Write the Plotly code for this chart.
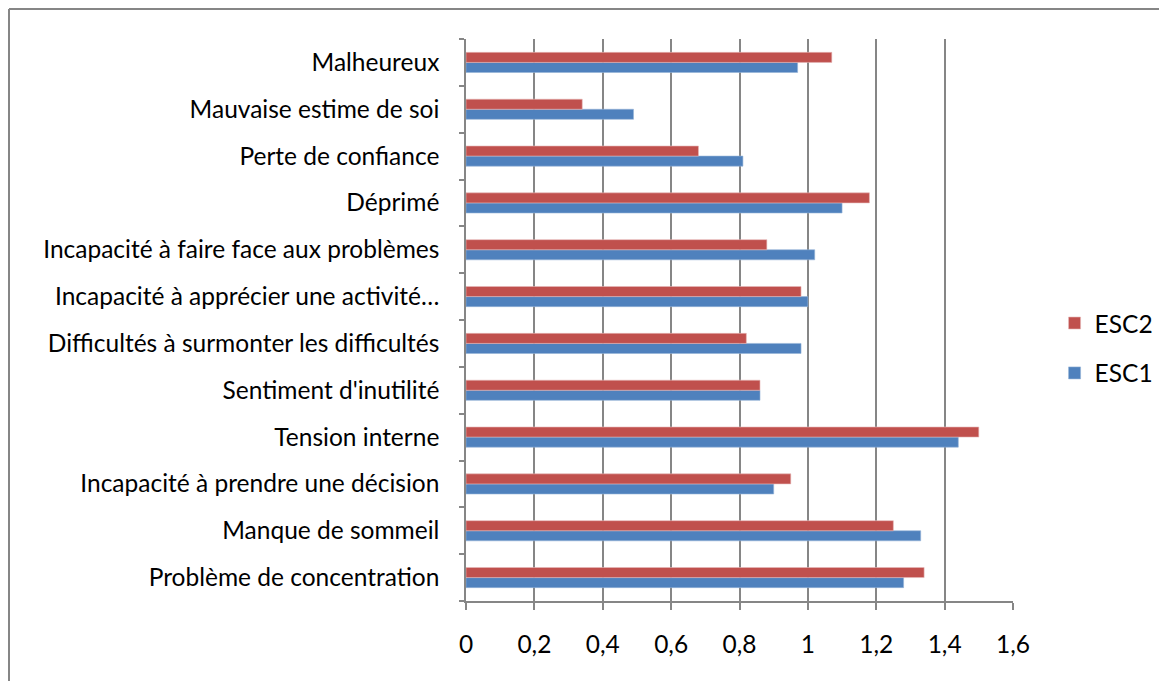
import plotly.graph_objects as go

categories = [
    "Problème de concentration",
    "Manque de sommeil",
    "Incapacité à prendre une décision",
    "Tension interne",
    "Sentiment d'inutilité",
    "Difficultés à surmonter les difficultés",
    "Incapacité à apprécier une activité…",
    "Incapacité à faire face aux problèmes",
    "Déprimé",
    "Perte de confiance",
    "Mauvaise estime de soi",
    "Malheureux",
]
esc1 = [1.28, 1.33, 0.90, 1.44, 0.86, 0.98, 1.00, 1.02, 1.10, 0.81, 0.49, 0.97]
esc2 = [1.34, 1.25, 0.95, 1.50, 0.86, 0.82, 0.98, 0.88, 1.18, 0.68, 0.34, 1.07]
x_ticks = [0, 0.2, 0.4, 0.6, 0.8, 1.0, 1.2, 1.4, 1.6]

FONT = "Lato, Carlito, Calibri, sans-serif"
GRID = "#868686"
FS = 24.5

fig = go.Figure()
fig.add_trace(go.Bar(y=categories, x=esc1, orientation="h", name="ESC1",
                     marker=dict(color="#4F81BD", line=dict(color="#95B3D7", width=0.6)),
                     legendgroup="a", legendrank=1002))
fig.add_trace(go.Bar(y=categories, x=esc2, orientation="h", name="ESC2",
                     marker=dict(color="#C0504D", line=dict(color="#E6B9B8", width=0.6)),
                     legendgroup="b", legendrank=1001))

fig.update_layout(
    width=1167, height=681,
    margin=dict(l=458, r=162, t=31, b=88),
    paper_bgcolor="white", plot_bgcolor="white",
    barmode="group", bargap=0.57, bargroupgap=0,
    separators=", ",
    font=dict(family=FONT, size=FS, color="#000000"),
    showlegend=True,
    legend=dict(x=1.076, y=0.45, xanchor="left", yanchor="middle",
                traceorder="grouped", tracegroupgap=15,
                font=dict(family=FONT, size=FS, color="#000000"),
                bgcolor="rgba(0,0,0,0)"),
    xaxis=dict(range=[0, 1.6], tickvals=x_ticks, showgrid=True, gridcolor=GRID,
               gridwidth=1.5, zeroline=False, showline=True, linecolor=GRID,
               linewidth=1.5, ticks="outside", ticklen=7, tickcolor=GRID,
               tickwidth=1.5, ticklabelstandoff=14, fixedrange=True),
    yaxis=dict(categoryorder="array", categoryarray=categories,
               showgrid=False, zeroline=False, showline=True, linecolor=GRID,
               linewidth=1.5, ticks="outside", ticklen=5, tickcolor=GRID,
               tickwidth=1.5, tickson="boundaries", ticklabelstandoff=20,
               fixedrange=True),
    shapes=[
        dict(type="line", xref="paper", yref="paper",
             x0=(9 - 466) / 547, x1=(1200 - 466) / 547,
             y0=(601 - 9) / 562, y1=(601 - 9) / 562,
             line=dict(color=GRID, width=2)),
        dict(type="line", xref="paper", yref="paper",
             x0=(9 - 466) / 547, x1=(9 - 466) / 547,
             y0=(601 - 9) / 562, y1=(601 - 700) / 562,
             line=dict(color=GRID, width=2)),
    ],
)

fig.write_html("out.html")
